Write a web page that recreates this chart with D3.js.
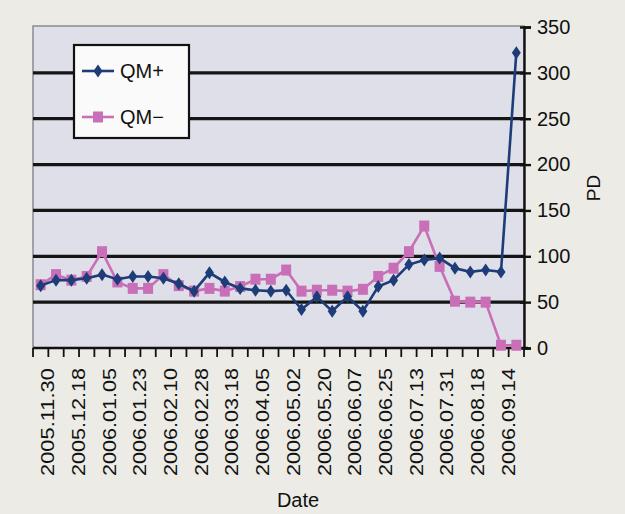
<!DOCTYPE html>
<html>
<head>
<meta charset="utf-8">
<script src="https://cdn.jsdelivr.net/npm/d3@7"></script>
<style>
  body { margin: 0; background: #ecebe6; }
  svg { display: block; font-family: "Liberation Sans", Arial, sans-serif; }
</style>
</head>
<body>
<svg width="625" height="514"></svg>
<script>
const svg = d3.select("svg");

// date labels shown on the axis (one per two measurements)
const dateLabels = ["2005.11.30", "2005.12.18", "2006.01.05", "2006.01.23", "2006.02.10",
    "2006.02.28", "2006.03.18", "2006.04.05", "2006.05.02", "2006.05.20", "2006.06.07",
    "2006.06.25", "2006.07.13", "2006.07.31", "2006.08.18", "2006.09.14"];

const qmPlus = [68, 74, 74, 76, 80, 75, 78, 78, 76, 70, 62, 82, 72, 65, 63, 62,
    63, 42, 56, 40, 56, 40, 67, 74, 91, 96, 98, 87, 83, 85, 83, 322];
const qmMinus = [69, 80, 74, 78, 105, 72, 65, 65, 80, 68, 62, 65, 62, 67, 75, 75,
    85, 62, 63, 63, 62, 64, 78, 87, 105, 133, 89, 51, 50, 50, 3, 3];

const yTicks = [0, 50, 100, 150, 200, 250, 300, 350];

const plotLeft = 33, plotRight = 524, plotTop = 27, plotBottom = 348;

const x = d3.scaleBand()
    .domain(d3.range(qmPlus.length))
    .range([plotLeft, plotRight]);
const y = d3.scaleLinear()
    .domain([0, 350])
    .range([plotBottom, plotTop]);
const cx = i => x(i) + x.bandwidth() / 2;

// plot area
svg.append("rect")
    .attr("x", plotLeft)
    .attr("y", y(350) - 1)
    .attr("width", plotRight - plotLeft)
    .attr("height", plotBottom - y(350) + 1)
    .attr("fill", "#dfdfe9")
    .attr("stroke", "#8a8a8e")
    .attr("stroke-width", 1.5);

// gridlines
svg.selectAll(".grid")
    .data(yTicks.filter(v => v > 0 && v < 350))
    .enter()
    .append("line")
    .attr("class", "grid")
    .attr("x1", plotLeft)
    .attr("x2", plotRight)
    .attr("y1", d => y(d))
    .attr("y2", d => y(d))
    .attr("stroke", "#151515")
    .attr("stroke-width", 3.2);

// x axis
svg.append("line")
    .attr("x1", plotLeft)
    .attr("x2", plotRight + 4)
    .attr("y1", plotBottom)
    .attr("y2", plotBottom)
    .attr("stroke", "#111")
    .attr("stroke-width", 2.4);

svg.selectAll(".xtick")
    .data(d3.range(qmPlus.length + 1))
    .enter()
    .append("line")
    .attr("class", "xtick")
    .attr("x1", k => plotLeft + k * x.step())
    .attr("x2", k => plotLeft + k * x.step())
    .attr("y1", plotBottom)
    .attr("y2", plotBottom + 9)
    .attr("stroke", "#111")
    .attr("stroke-width", 1.8);

svg.selectAll(".xlabel")
    .data(dateLabels)
    .enter()
    .append("text")
    .attr("class", "xlabel")
    .attr("transform", (d, k) => `translate(${x(2 * k) + x.step()},368) rotate(-90)`)
    .attr("text-anchor", "end")
    .attr("dominant-baseline", "central")
    .attr("font-size", 18)
    .attr("textLength", 108)
    .attr("lengthAdjust", "spacingAndGlyphs")
    .attr("fill", "#111")
    .text(d => d);

// right y axis
const yAxis = svg.append("g")
    .attr("transform", `translate(${plotRight},0)`)
    .call(d3.axisRight(y).tickValues(yTicks).tickSize(7).tickPadding(6));
yAxis.select(".domain").attr("stroke", "#111").attr("stroke-width", 2.4);
yAxis.selectAll(".tick line").attr("x1", -4).attr("stroke", "#111").attr("stroke-width", 2.4);
yAxis.selectAll(".tick text")
    .attr("font-size", 20)
    .attr("fill", "#111")
    .attr("font-family", "'Liberation Sans', Arial, sans-serif");

// axis titles
svg.append("text")
    .attr("x", 298)
    .attr("y", 507)
    .attr("text-anchor", "middle")
    .attr("font-size", 20)
    .attr("fill", "#111")
    .text("Date");

svg.append("text")
    .attr("transform", "translate(600,188) rotate(-90)")
    .attr("text-anchor", "middle")
    .attr("font-size", 19)
    .attr("fill", "#111")
    .text("PD");

// series
const blue = "#1d3c78";
const pink = "#c86fb8";

const line = d3.line()
    .x((d, i) => cx(i))
    .y(d => y(d));

svg.append("path")
    .datum(qmMinus)
    .attr("d", line)
    .attr("fill", "none")
    .attr("stroke", pink)
    .attr("stroke-width", 2.6);

svg.selectAll(".sq")
    .data(qmMinus)
    .enter()
    .append("rect")
    .attr("class", "sq")
    .attr("x", (d, i) => cx(i) - 5)
    .attr("y", d => y(d) - 5.5)
    .attr("width", 10)
    .attr("height", 11)
    .attr("fill", pink);

svg.append("path")
    .datum(qmPlus)
    .attr("d", line)
    .attr("fill", "none")
    .attr("stroke", blue)
    .attr("stroke-width", 2.6);

const diamond = "M0,-6.5L4.5,0L0,6.5L-4.5,0Z";
svg.selectAll(".dm")
    .data(qmPlus)
    .enter()
    .append("path")
    .attr("class", "dm")
    .attr("d", diamond)
    .attr("transform", (d, i) => `translate(${cx(i)},${y(d)})`)
    .attr("fill", blue);

// legend
const legend = svg.append("g");
legend.append("rect")
    .attr("x", 74)
    .attr("y", 45)
    .attr("width", 115)
    .attr("height", 93)
    .attr("fill", "#fafafa")
    .attr("stroke", "#111")
    .attr("stroke-width", 2.2);

const items = [
    { name: "QM+", color: blue, shape: "diamond", y: 71 },
    { name: "QM\u2212", color: pink, shape: "square", y: 117 }
];
items.forEach(it => {
    legend.append("line")
        .attr("x1", 82)
        .attr("x2", 114)
        .attr("y1", it.y)
        .attr("y2", it.y)
        .attr("stroke", it.color)
        .attr("stroke-width", 2.6);
    if (it.shape === "diamond") {
        legend.append("path")
            .attr("d", diamond)
            .attr("transform", `translate(98,${it.y})`)
            .attr("fill", it.color);
    } else {
        legend.append("rect")
            .attr("x", 93)
            .attr("y", it.y - 5.5)
            .attr("width", 10)
            .attr("height", 11)
            .attr("fill", it.color);
    }
    legend.append("text")
        .attr("x", 120)
        .attr("y", it.y)
        .attr("dominant-baseline", "central")
        .attr("font-size", 20)
        .attr("fill", "#111")
        .text(it.name);
});
</script>
</body>
</html>
